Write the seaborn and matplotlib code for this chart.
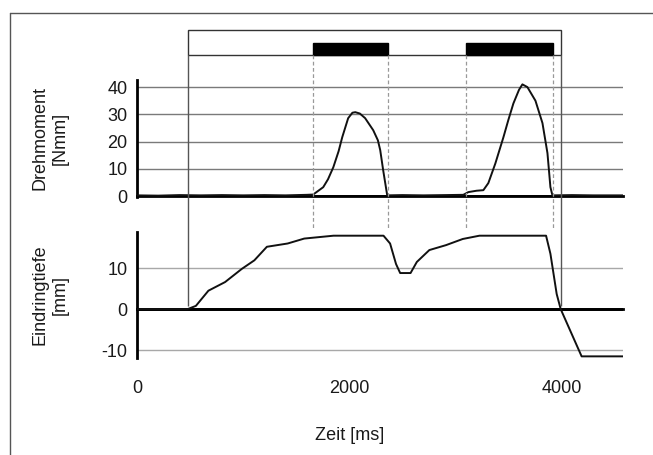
import matplotlib
matplotlib.use("Agg")
import matplotlib.pyplot as plt
from matplotlib.lines import Line2D
from matplotlib.patches import Rectangle
import seaborn as sns
import pandas as pd

# data
torque_t = [0, 200, 400, 600, 800, 1000, 1200, 1400, 1600, 1660, 1755, 1800, 1850, 1900,
            1934, 1990, 2030, 2057, 2100, 2150, 2226, 2270, 2292, 2320, 2358, 2500, 2700,
            2900, 3075, 3123, 3200, 3264, 3311, 3377, 3453, 3500, 3547, 3600, 3632, 3679,
            3755, 3821, 3868, 3896, 3915, 4100, 4300, 4580]
torque = [0.3, 0.2, 0.4, 0.3, 0.4, 0.3, 0.4, 0.3, 0.5, 0.6, 3.3, 6.2, 10.6, 16.5,
          21.6, 28.6, 30.6, 30.8, 30.3, 28.6, 24.2, 20.5, 16.9, 9.5, 0.3, 0.4, 0.3,
          0.4, 0.5, 1.5, 2.0, 2.2, 4.8, 12.0, 21.6, 28.0, 34.0, 39.0, 41.0, 40.0,
          35.0, 26.8, 15.8, 3.3, 0.3, 0.4, 0.3, 0.3]

depth_t = [0, 476, 555, 673, 830, 987, 1106, 1224, 1420, 1576, 1852, 2323, 2385, 2441,
           2480, 2578, 2637, 2755, 2912, 3070, 3227, 3855, 3896, 3955, 3993, 4190, 4580]
depth = [0, 0, 0.8, 4.5, 6.6, 9.8, 11.9, 15.2, 16.0, 17.2, 17.9, 17.9, 16.0, 11.0,
         8.8, 8.8, 11.5, 14.4, 15.6, 17.1, 17.9, 17.9, 13.5, 3.7, 0, -11.5, -11.5]

# phases: contact window and the two rotation intervals
contact = [481, 4000]
rotations = [(1660, 2368), (3104, 3925)]

x_ticks = [0, 2000, 4000]
torque_ticks = [0, 10, 20, 30, 40]
depth_ticks = [-10, 0, 10]

sns.set_style("white")
plt.rcParams["font.family"] = ["Liberation Sans", "DejaVu Sans"]
plt.rcParams["axes.unicode_minus"] = False

W, H = 653, 455
fig = plt.figure(figsize=(W / 100, H / 100), dpi=100)

XMAX = 4580
left = 137 / W
width = (623 - 137) / W
FS = 13
TXT = "#1a1a1a"

def fy(px):
    return 1 - px / H

ax1 = fig.add_axes([left, fy(197), width, fy(80) - fy(197)])
ax2 = fig.add_axes([left, fy(358), width, fy(232) - fy(358)])

df1 = pd.DataFrame({"t": torque_t, "v": torque})
df2 = pd.DataFrame({"t": depth_t, "v": depth})
sns.lineplot(data=df1, x="t", y="v", ax=ax1, color="#111111", lw=1.4, zorder=5)
sns.lineplot(data=df2, x="t", y="v", ax=ax2, color="#111111", lw=1.4, zorder=5)

for ax, ticks, ylim, grid_c in [(ax1, torque_ticks, (-0.3, 42.6), "#7a7a7a"),
                                (ax2, depth_ticks, (-11.9, 18.8), "#a8a8a8")]:
    ax.set_xlim(0, XMAX)
    ax.set_ylim(*ylim)
    ax.set_xticks(x_ticks)
    ax.set_yticks(ticks)
    ax.patch.set_alpha(0)
    for t in ticks:
        if t != 0:
            ax.axhline(t, color=grid_c, lw=1.0, zorder=1)
    ax.axhline(0, color="black", lw=2.0, zorder=4)
    for s in ["top", "right"]:
        ax.spines[s].set_visible(False)
    ax.spines["left"].set_linewidth(2.0)
    ax.spines["left"].set_color("black")
    ax.spines["bottom"].set_position(("data", 0))
    ax.spines["bottom"].set_linewidth(2.0)
    ax.spines["bottom"].set_color("black")
    ax.tick_params(axis="y", direction="out", length=4, width=1.2, labelsize=FS,
                   colors=TXT, pad=3)
    ax.set_xlabel("")

ax1.tick_params(axis="x", direction="out", length=6, width=1.2, labelbottom=False)
ax2.tick_params(axis="x", direction="out", length=5, width=1.2, labelsize=FS,
                colors=TXT, pad=46)
ax2.set_xticklabels([str(t) for t in x_ticks])

ax1.set_ylabel("Drehmoment\n[Nmm]", fontsize=FS, color=TXT, linespacing=1.25)
ax2.set_ylabel("Eindringtiefe\n[mm]", fontsize=FS, color=TXT, linespacing=1.25)
ax1.yaxis.set_label_coords(-0.14, 0.5)
ax2.yaxis.set_label_coords(-0.14, 0.5)
fig.text(left + width * 2000 / XMAX, fy(436), "Zeit [ms]", ha="center", va="center",
         fontsize=FS, color=TXT)

# overlay in pixel y for the phase box and the vertical markers
ov = fig.add_axes([left, 0, width, 1])
ov.set_xlim(0, XMAX)
ov.set_ylim(H, 0)
ov.axis("off")
ov.patch.set_alpha(0)

ov.add_patch(Rectangle((contact[0], 30), contact[1] - contact[0], 25, fill=False,
                       ec="#333333", lw=1.0))
for a, b in rotations:
    ov.add_patch(Rectangle((a, 43), b - a, 12, fc="black", ec="black"))
    ov.vlines([a, b], 55, 230, colors="#999999", lw=0.9, linestyles=(0, (3, 2)))
ov.vlines(contact, 55, 306, colors="#555555", lw=1.0)

# outer frame (top and left edges)
fig.add_artist(Line2D([10 / W, 1], [fy(13), fy(13)], color="#555555", lw=1.0))
fig.add_artist(Line2D([10 / W, 10 / W], [fy(13), 0], color="#555555", lw=1.0))

fig.savefig("out.png", dpi=100)
